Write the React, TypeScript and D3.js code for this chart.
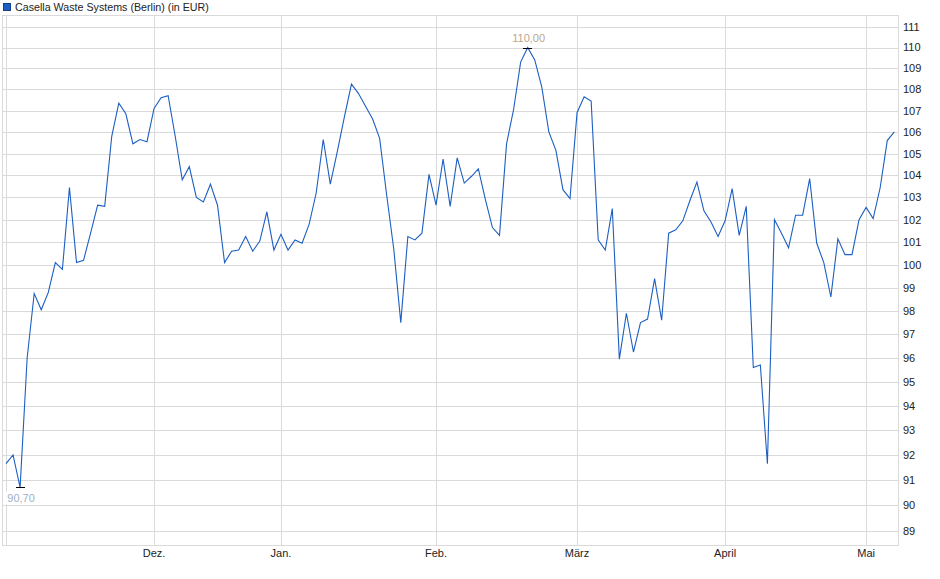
import React, { useEffect } from 'react';
import * as d3 from 'd3';

// Casella Waste Systems, Berlin quotes (EUR), one value per trading day
const title = 'Casella Waste Systems (Berlin) (in EUR)';

const prices: number[] = [
  91.65, 92.0, 90.7, 96.0, 98.75, 98.05, 98.8, 100.1, 99.8, 103.45,
  100.1, 100.2, 101.4, 102.65, 102.6, 105.8, 107.35, 106.85, 105.45, 105.65,
  105.55, 107.1, 107.6, 107.7, 105.8, 103.8, 104.4, 103.0, 102.8, 103.6,
  102.65, 100.1, 100.6, 100.65, 101.25, 100.6, 101.05, 102.35, 100.65, 101.35,
  100.65, 101.1, 100.95, 101.8, 103.2, 105.65, 103.6, 105.1, 106.7, 108.25,
  107.8, 107.2, 106.6, 105.7, 103.1, 100.7, 97.5, 101.25, 101.1, 101.4,
  104.05, 102.65, 104.75, 102.6, 104.8, 103.65, 103.95, 104.3, 102.9, 101.65,
  101.3, 105.45, 107.05, 109.3, 110.0, 109.4, 108.1, 106.0, 105.15, 103.35,
  102.95, 106.9, 107.65, 107.45, 101.1, 100.65, 102.5, 95.95, 97.9, 96.25,
  97.5, 97.65, 99.4, 97.6, 101.4, 101.55, 101.95, 102.85, 103.7, 102.4,
  101.9, 101.25, 101.95, 103.4, 101.3, 102.6, 95.6, 95.7, 91.65, 102.0,
  101.4, 100.75, 102.2, 102.2, 103.85, 100.95, 100.1, 98.6, 101.15, 100.45,
  100.45, 102.0, 102.55, 102.05, 103.45, 105.6, 106.0,
];

// first trading day of each month (index into prices)
const monthIndex = [0, 21, 39, 61, 81, 102, 122];
const monthLabels = ['', 'Dez.', 'Jan.', 'Feb.', 'März', 'April', 'Mai'];

const yTicks = [
  89, 90, 91, 92, 93, 94, 95, 96, 97, 98, 99, 100,
  101, 102, 103, 104, 105, 106, 107, 108, 109, 110, 111,
];

const W = 940;
const H = 579;
const plot = { left: 3, right: 898, top: 16, bottom: 545 };
const font = '"Liberation Sans", Arial, sans-serif';
const lineColor = '#1c5fc2';
const gridColor = '#dadada';

const fmt = (v: number) => v.toFixed(2).replace('.', ',');
const px = (v: number) => Math.round(v) + 0.5;

export default function App() {
  useEffect(() => {
    document.body.style.margin = '0';
  }, []);

  const x = d3.scaleLinear().domain([0, prices.length - 1]).range([6, 894.3]);
  const y = d3.scaleLog().domain([88.44, 111.53]).range([plot.bottom, plot.top]);

  const line = d3
    .line<number>()
    .x((_, i) => x(i))
    .y((d) => y(d));

  const maxI = d3.maxIndex(prices);
  const minI = d3.minIndex(prices);

  return (
    <svg width={W} height={H} style={{ display: 'block', fontFamily: font }}>
      <rect width={W} height={H} fill="#fff" />

      {/* legend */}
      <rect x={3.5} y={3.5} width={7} height={7} fill={lineColor} stroke="#173f85" />
      <text x={15} y={10.5} fontSize={10.7} fill="#222">
        {title}
      </text>

      {/* horizontal grid + y labels */}
      {yTicks.map((t) => (
        <g key={t}>
          <line
            x1={plot.left}
            x2={plot.right}
            y1={px(y(t))}
            y2={px(y(t))}
            stroke={gridColor}
            shapeRendering="crispEdges"
          />
          <text x={903} y={y(t)} dy="0.36em" fontSize={11} fill="#222">
            {t}
          </text>
        </g>
      ))}

      {/* vertical month grid + labels */}
      {monthIndex.map((m, i) => (
        <g key={m}>
          <line
            x1={px(x(m))}
            x2={px(x(m))}
            y1={plot.top}
            y2={plot.bottom}
            stroke={gridColor}
            shapeRendering="crispEdges"
          />
          <text x={x(m)} y={557} textAnchor="middle" fontSize={11} fill="#222">
            {monthLabels[i]}
          </text>
        </g>
      ))}

      {/* frame */}
      <rect
        x={plot.left - 0.5}
        y={plot.top - 0.5}
        width={plot.right - plot.left + 1}
        height={plot.bottom - plot.top + 1}
        fill="none"
        stroke={gridColor}
        shapeRendering="crispEdges"
      />

      <path d={line(prices) ?? ''} fill="none" stroke={lineColor} strokeWidth={1.1} />

      {/* max marker */}
      <line
        x1={x(maxI) - 4.5}
        x2={x(maxI) + 4.5}
        y1={px(y(prices[maxI]))}
        y2={px(y(prices[maxI]))}
        stroke="#000"
        shapeRendering="crispEdges"
      />
      <text x={x(maxI) + 1} y={y(prices[maxI]) - 6} textAnchor="middle" fontSize={11} fill="#b8a68e">
        {fmt(prices[maxI])}
      </text>

      {/* min marker */}
      <rect x={x(minI) - 14} y={y(prices[minI]) + 4} width={29} height={13} fill="#fff" />
      <line
        x1={x(minI) - 4.5}
        x2={x(minI) + 4.5}
        y1={px(y(prices[minI]))}
        y2={px(y(prices[minI]))}
        stroke="#000"
        shapeRendering="crispEdges"
      />
      <text x={x(minI) + 1} y={y(prices[minI]) + 15} textAnchor="middle" fontSize={11} fill="#9fb0c8">
        {fmt(prices[minI])}
      </text>
    </svg>
  );
}
